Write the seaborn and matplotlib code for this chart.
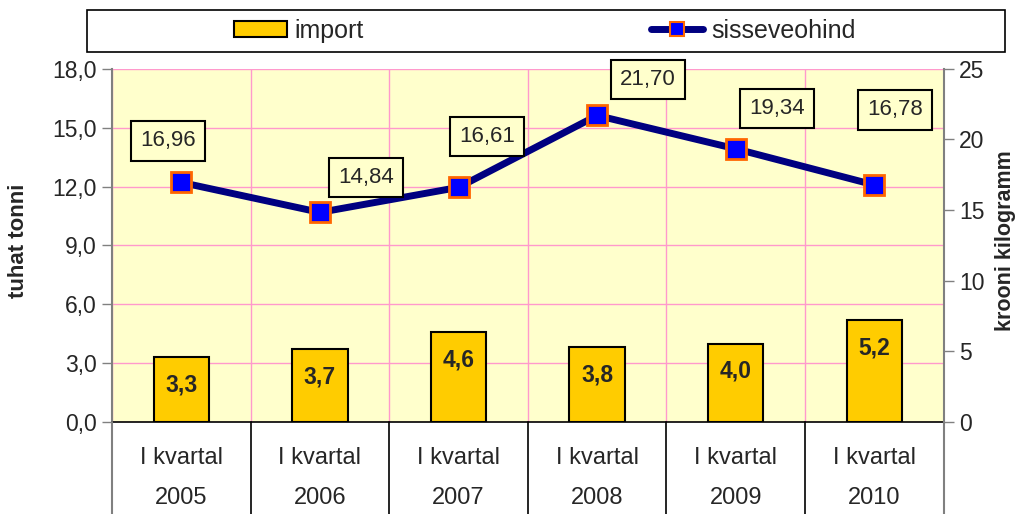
import numpy as np
import pandas as pd
import matplotlib
matplotlib.use('Agg')
import matplotlib.pyplot as plt
import matplotlib.transforms as mtransforms
from matplotlib.patches import Rectangle, Patch
from matplotlib.lines import Line2D
import seaborn as sns

# data
quarters = ['I kvartal'] * 6
years = ['2005', '2006', '2007', '2008', '2009', '2010']
import_vals = [3.3, 3.7, 4.6, 3.8, 4.0, 5.2]
price_vals = [16.96, 14.84, 16.61, 21.70, 19.34, 16.78]

sns.set_style('white')
plt.rcParams['font.family'] = ['Liberation Sans', 'DejaVu Sans']

BAR = '#FFCC00'
BG = '#FFFFCC'
GRID = '#FF99CC'
NAVY = '#000080'

df = pd.DataFrame({'pos': np.arange(6), 'year': years,
                   'imp': import_vals, 'price': price_vals})

fig = plt.figure(figsize=(10.18, 5.14), dpi=100)
ax = fig.add_axes([0.110, 0.179, 0.817, 0.687])
ax.set_facecolor(BG)

sns.barplot(data=df, x='pos', y='imp', ax=ax, color=BAR, width=0.40,
            edgecolor='black', linewidth=1.5, saturation=1, zorder=3)
ax.set_xlim(-0.5, 5.5)
ax.set_ylim(0, 18)
yt = np.arange(0, 18.1, 3)
ax.set_yticks(yt)
ax.set_yticklabels([f'{v:.1f}'.replace('.', ',') for v in yt], fontsize=16.5)
ax.set_xticks(np.arange(-0.5, 5.6, 1), minor=True)
ax.set_xticks([])
ax.grid(True, axis='y', which='major', color=GRID, linewidth=1, zorder=0)
ax.grid(True, axis='x', which='minor', color=GRID, linewidth=1, zorder=0)
ax.set_axisbelow(True)
ax.tick_params(axis='y', which='major', direction='out', length=7, width=1,
               color='#808080', left=True, pad=4)
ax.tick_params(axis='x', which='minor', length=0)
ax.set_xlabel('')
ax.set_ylabel('')
ax.spines['top'].set_visible(False)
ax.spines['right'].set_visible(False)
ax.spines['left'].set_color('#808080')
ax.spines['left'].set_linewidth(1.5)
ax.spines['bottom'].set_color('black')
ax.spines['bottom'].set_linewidth(1.2)

for i, v in enumerate(import_vals):
    ax.annotate(f'{v:.1f}'.replace('.', ','), (i, v), xytext=(0, -20),
                textcoords='offset points', ha='center', va='center',
                fontsize=16.5, fontweight='bold', zorder=5)

ax2 = ax.twinx()
sns.lineplot(data=df, x='pos', y='price', ax=ax2, color=NAVY, linewidth=5,
             marker='s', markersize=15, markerfacecolor='#0000FF',
             markeredgecolor='#FF6600', markeredgewidth=2, zorder=4)
ax2.set_ylim(0, 25)
ax2.set_xlim(-0.5, 5.5)
ax2.set_yticks(np.arange(0, 26, 5))
ax2.set_yticklabels([str(v) for v in range(0, 26, 5)], fontsize=16.5)
ax2.tick_params(axis='y', direction='out', length=7, width=1, color='#808080',
                right=True, pad=4)
ax2.set_ylabel('')
ax2.set_xlabel('')
for s in ['top', 'left', 'bottom']:
    ax2.spines[s].set_visible(False)
ax2.spines['right'].set_color('#808080')
ax2.spines['right'].set_linewidth(1.5)

offsets = [(-9.5, 30), (33, 25), (20.5, 36.7), (36.7, 26), (29.5, 29), (15, 54)]
for i, (v, off) in enumerate(zip(price_vals, offsets)):
    ax2.annotate(f'{v:.2f}'.replace('.', ','), (i, v), xytext=off,
                 textcoords='offset points', ha='center', va='center',
                 fontsize=16, zorder=6,
                 bbox=dict(boxstyle='square,pad=0.42', facecolor=BG,
                           edgecolor='black', linewidth=1.5))

# axis titles
fig.text(0.0177, 0.532, 'tuhat tonni', rotation=90, ha='center', va='center',
         fontsize=16, fontweight='bold')
fig.text(0.988, 0.532, 'krooni kilogramm', rotation=90, ha='center',
         va='center', fontsize=15.5, fontweight='bold')

# two-level category axis
trans = mtransforms.blended_transform_factory(ax.transData, fig.transFigure)
for b in np.arange(-0.5, 5.6, 1):
    edge = b in (-0.5, 5.5)
    fig.add_artist(Line2D([b, b], [0, 0.179], transform=trans,
                          color='#808080' if edge else 'black',
                          linewidth=1.5 if edge else 1.2))
for i in range(6):
    fig.text(i, 0.109, quarters[i], transform=trans, ha='center', va='center',
             fontsize=17)
    fig.text(i, 0.031, years[i], transform=trans, ha='center', va='center',
             fontsize=17)

# legend
fig.add_artist(Rectangle((0.0855, 0.899), 0.902, 0.082, transform=fig.transFigure,
                         facecolor='white', edgecolor='black', linewidth=1.2))
handles = [Patch(facecolor=BAR, edgecolor='black', linewidth=1.5),
           Line2D([], [], color=NAVY, linewidth=5, marker='s', markersize=10,
                  markerfacecolor='#0000FF', markeredgecolor='#FF6600',
                  markeredgewidth=1.5)]
fig.legend(handles, ['import', 'sisseveohind'], ncol=2, loc='center',
           bbox_to_anchor=(0.535, 0.94), frameon=False, fontsize=18,
           handlelength=2.1, handleheight=0.6, handletextpad=0.3,
           columnspacing=11.5)

fig.savefig('out.png', dpi=100)
